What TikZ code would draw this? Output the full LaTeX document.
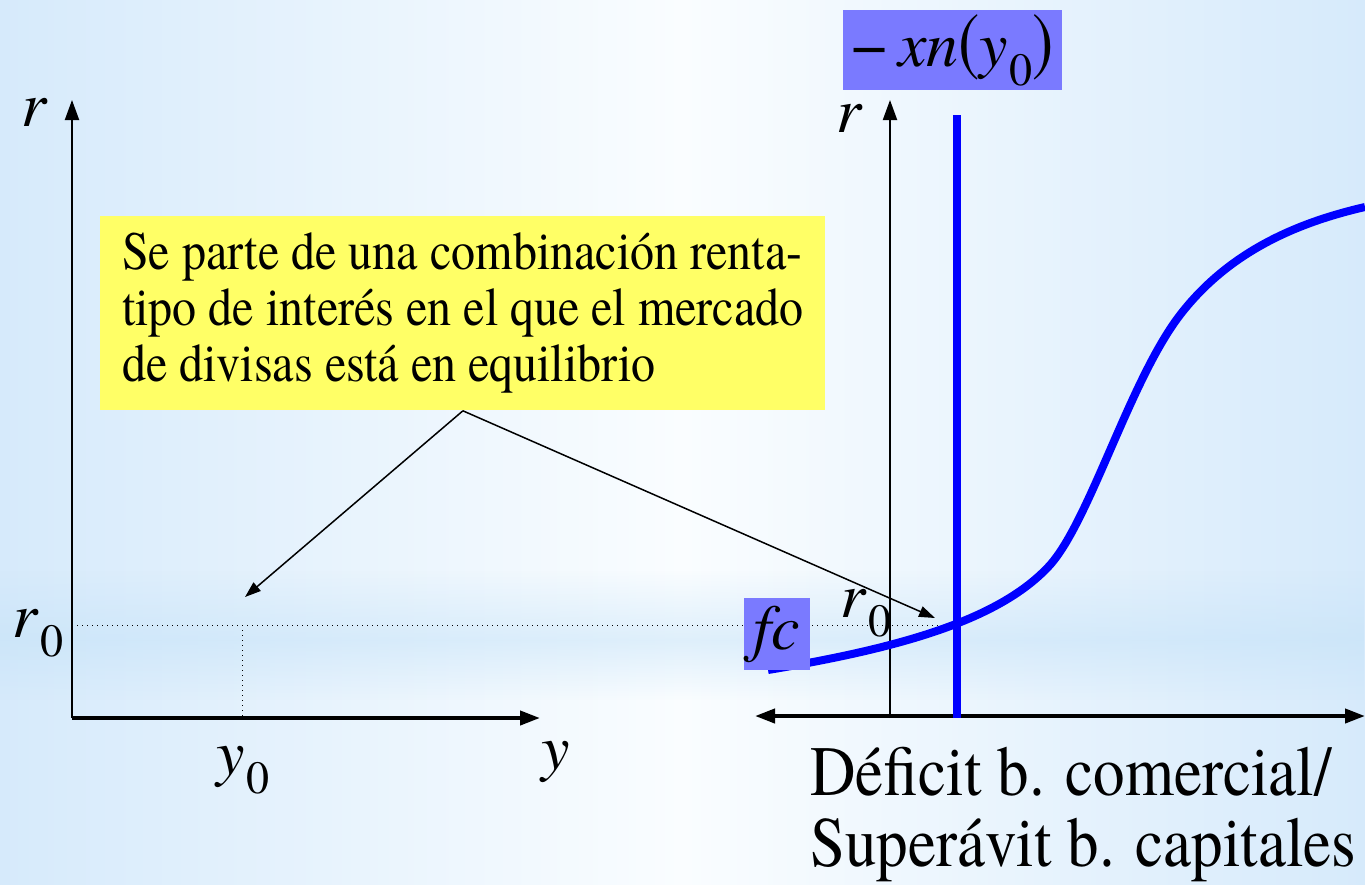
\documentclass[tikz,border=0pt]{standalone}
\usepackage{fontspec}
\setmainfont{TeX Gyre Termes}
\newfontfamily\narrowfont{TeX Gyre Termes}[FakeStretch=0.89]
\usepackage{graphicx}
\usetikzlibrary{arrows.meta, positioning, calc, fadings}
\definecolor{bgpale}{RGB}{250,253,255}
\definecolor{bgblue}{RGB}{214,234,251}
\definecolor{bandc}{RGB}{196,226,248}
\definecolor{notey}{RGB}{255,255,102}
\definecolor{tagc}{RGB}{122,122,255}
\newcommand{\withsub}[2]{\textit{#1}\kern0.5pt\raisebox{-0.3em}{\scalebox{0.72}{#2}}}
\tikzfading[name=bandup, top color=transparent!100, bottom color=transparent!0]
\tikzfading[name=banddown, top color=transparent!0, bottom color=transparent!100]

\begin{document}
\begin{tikzpicture}[
		x=0.5pt, y=-0.5pt,
		axis/.style={line width=1pt, -{Triangle[length=10pt,width=7pt]}},
		ptr/.style={line width=0.75pt, -{Triangle[length=8pt,width=5.5pt]}},
		guide/.style={line width=0.5pt, dotted},
		curvec/.style={blue, line width=4pt},
		mlbl/.style={font=\fontsize{32}{36}\selectfont, inner sep=0pt},
		tag/.style={fill=tagc, inner sep=0pt, font=\fontsize{32}{36}\selectfont},
		note/.style={fill=notey, inner sep=0pt, align=left, font=\narrowfont\fontsize{27}{28}\selectfont},
		caption/.style={font=\narrowfont\fontsize{35.4}{36}\selectfont, inner sep=0pt, anchor=base west}
	]
		\useasboundingbox (0,0) rectangle (1365,884);
		% background
		\shade[left color=bgblue, right color=bgblue, middle color=bgpale] (0,0) rectangle (1365,884);
		\fill[bandc, path fading=bandup, fill opacity=0.5] (0,570) rectangle (1365,640);
		\fill[bandc, path fading=banddown, fill opacity=0.5] (0,640) rectangle (1365,700);
		% left diagram
		\coordinate (O1) at (72,718);
		\coordinate (eq1) at (242,625);
		\coordinate (eq2) at (957,625);
		\draw[guide] (O1 |- eq1) -- (eq2);
		\draw[guide] (eq1) -- (eq1 |- O1);
		\draw[axis] (O1) -- (72,100);
		\draw[axis, line width=2pt] (O1) -- (540,718);
		\node[mlbl] (r1) at (35,112) {\textit{r}};
		\node[mlbl] (r01) at (38,633) {\withsub{r}{0}};
		\node[mlbl] (y01) at (243,770) {\withsub{y}{0}};
		\node[mlbl] (y1) at (556,762) {\textit{y}};
		% right diagram
		\coordinate (O2) at (890,716);
		\draw[axis] (890,718) -- (890,100);
		\draw[axis, line width=2pt, {Triangle[length=10pt,width=7pt]}-{Triangle[length=10pt,width=7pt]}] (755,716) -- (1365,716);
		\draw[curvec] (957,115) -- (957,718);
		\draw[curvec] (768,670) .. controls (900,648) and (1000,620) .. (1050,565)
			.. controls (1090,520) and (1130,380) .. (1180,315)
			.. controls (1230,250) and (1300,222) .. (1365,207);
		\node[mlbl] (r2) at (850,118) {\textit{r}};
		\node[mlbl] (r02) at (866,613) {\withsub{r}{0}};
		\node[tag, minimum width=109.5pt, minimum height=40pt] (xn) at (952.5,50) {−\,\textit{xn}\scalebox{1}[1.2]{(}\withsub{y}{0}\scalebox{1}[1.2]{)}};
		\node[tag, minimum width=33pt, minimum height=36pt] (fc) at (777,634) {\textit{fc}};
		\node[caption] (def) at (810,795) {Déficit b. comercial/};
		\node[caption] (sup) at (810,866) {Superávit b. capitales};
		% note and pointers
		\node[note, minimum width=362.5pt, minimum height=97pt, anchor=north west] (nota) at (100,216)
			{Se parte de una combinación renta-\\tipo de interés en el que el mercado\\de divisas está en equilibrio};
		\coordinate (tip1) at (245,597);
		\coordinate (tip2) at (935,618);
		\draw[ptr] (nota.south) -- (tip1);
		\draw[ptr] (nota.south) -- (tip2);
	\end{tikzpicture}
\end{document}
